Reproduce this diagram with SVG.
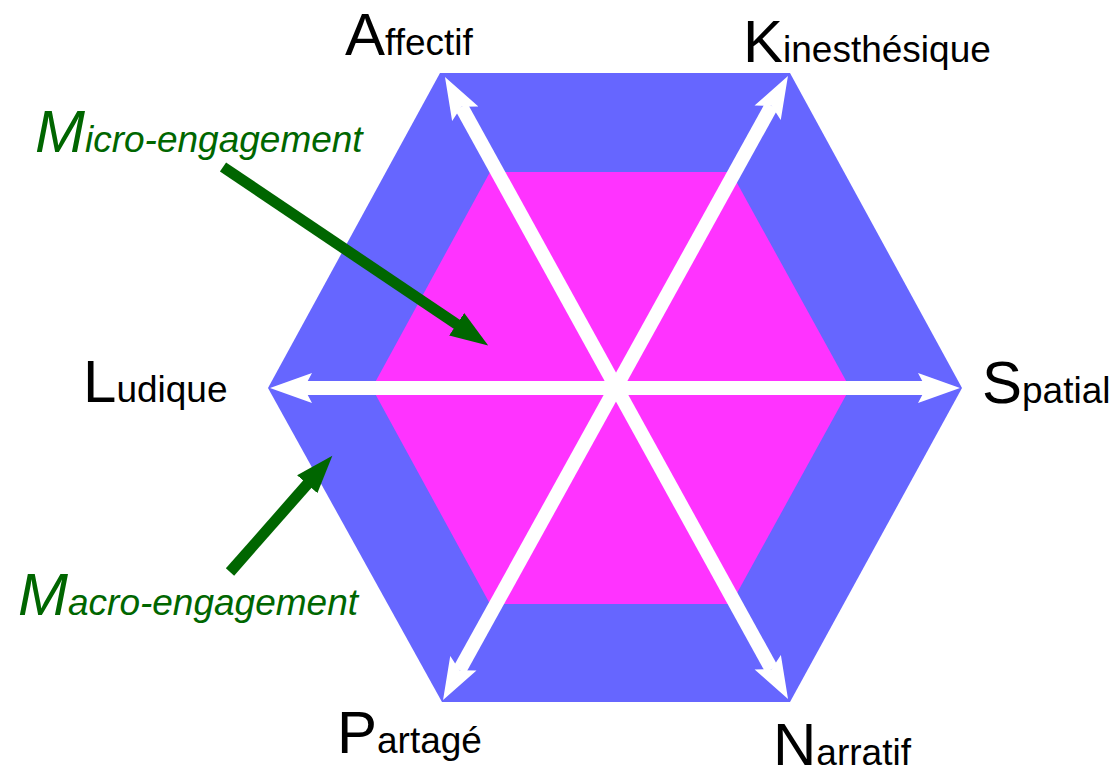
<svg xmlns="http://www.w3.org/2000/svg" width="1113" height="770" viewBox="0 0 1113 770">
<style>
.lbl{font-family:"Liberation Sans",Arial,sans-serif;fill:#000}
.big{font-size:60px}
.small{font-size:37px}
.eng{font-family:"Liberation Sans",Arial,sans-serif;font-style:italic;fill:#006600}
.axis{stroke:#fff;stroke-width:14;fill:none;marker-start:url(#wh);marker-end:url(#wh)}
.ptr{stroke:#006600;stroke-width:11;fill:none;marker-end:url(#gh)}
</style>
<defs>
<marker id="wh" markerUnits="userSpaceOnUse" markerWidth="44" markerHeight="32" viewBox="0 0 44 32" refX="8" refY="16" orient="auto-start-reverse">
<path d="M0,1 L42,16 L0,31 L8,16 Z" fill="#fff"/>
</marker>
<marker id="gh" markerUnits="userSpaceOnUse" markerWidth="40" markerHeight="28" viewBox="0 0 40 28" refX="1" refY="14" orient="auto">
<path d="M0,0.5 L38,14 L0,27.5 Z" fill="#006600"/>
</marker>
</defs>
<rect width="1113" height="770" fill="#fff"/>
<g id="macro-hexagon"><polygon points="440,73 790,73 962,388 790,702 442,702 268,388" fill="#6666FF"/></g>
<g id="micro-hexagon"><polygon points="490,172 731,172 850,388 731,604 490,604 372,388" fill="#FF33FF"/></g>
<g id="connectors">
<line class="axis" x1="304" y1="388" x2="926" y2="388"/>
<line class="axis" x1="461.4" y1="106.8" x2="771.6" y2="669.2"/>
<line class="axis" x1="771.5" y1="105.8" x2="459.5" y2="670.2"/>
<line class="ptr" x1="223" y1="167" x2="457.5" y2="324.8"/>
<line class="ptr" x1="230" y1="572" x2="307.9" y2="483.5"/>
</g>
<g id="affectif"><text class="lbl" x="345" y="55"><tspan class="big">A</tspan><tspan class="small">ffectif</tspan></text></g>
<g id="kinesthesique"><text class="lbl" x="743" y="62"><tspan class="big">K</tspan><tspan class="small">inesthésique</tspan></text></g>
<g id="ludique"><text class="lbl" x="83" y="402"><tspan class="big">L</tspan><tspan class="small">udique</tspan></text></g>
<g id="spatial"><text class="lbl" x="982" y="403"><tspan class="big">S</tspan><tspan class="small">patial</tspan></text></g>
<g id="partage"><text class="lbl" x="337" y="753"><tspan class="big">P</tspan><tspan class="small">artagé</tspan></text></g>
<g id="narratif"><text class="lbl" x="773" y="765"><tspan class="big">N</tspan><tspan class="small">arratif</tspan></text></g>
<g id="micro-label"><text class="eng" x="35" y="152"><tspan class="big">M</tspan><tspan class="small">icro-engagement</tspan></text></g>
<g id="macro-label"><text class="eng" x="18" y="615"><tspan class="big">M</tspan><tspan class="small">acro-engagement</tspan></text></g>
</svg>
